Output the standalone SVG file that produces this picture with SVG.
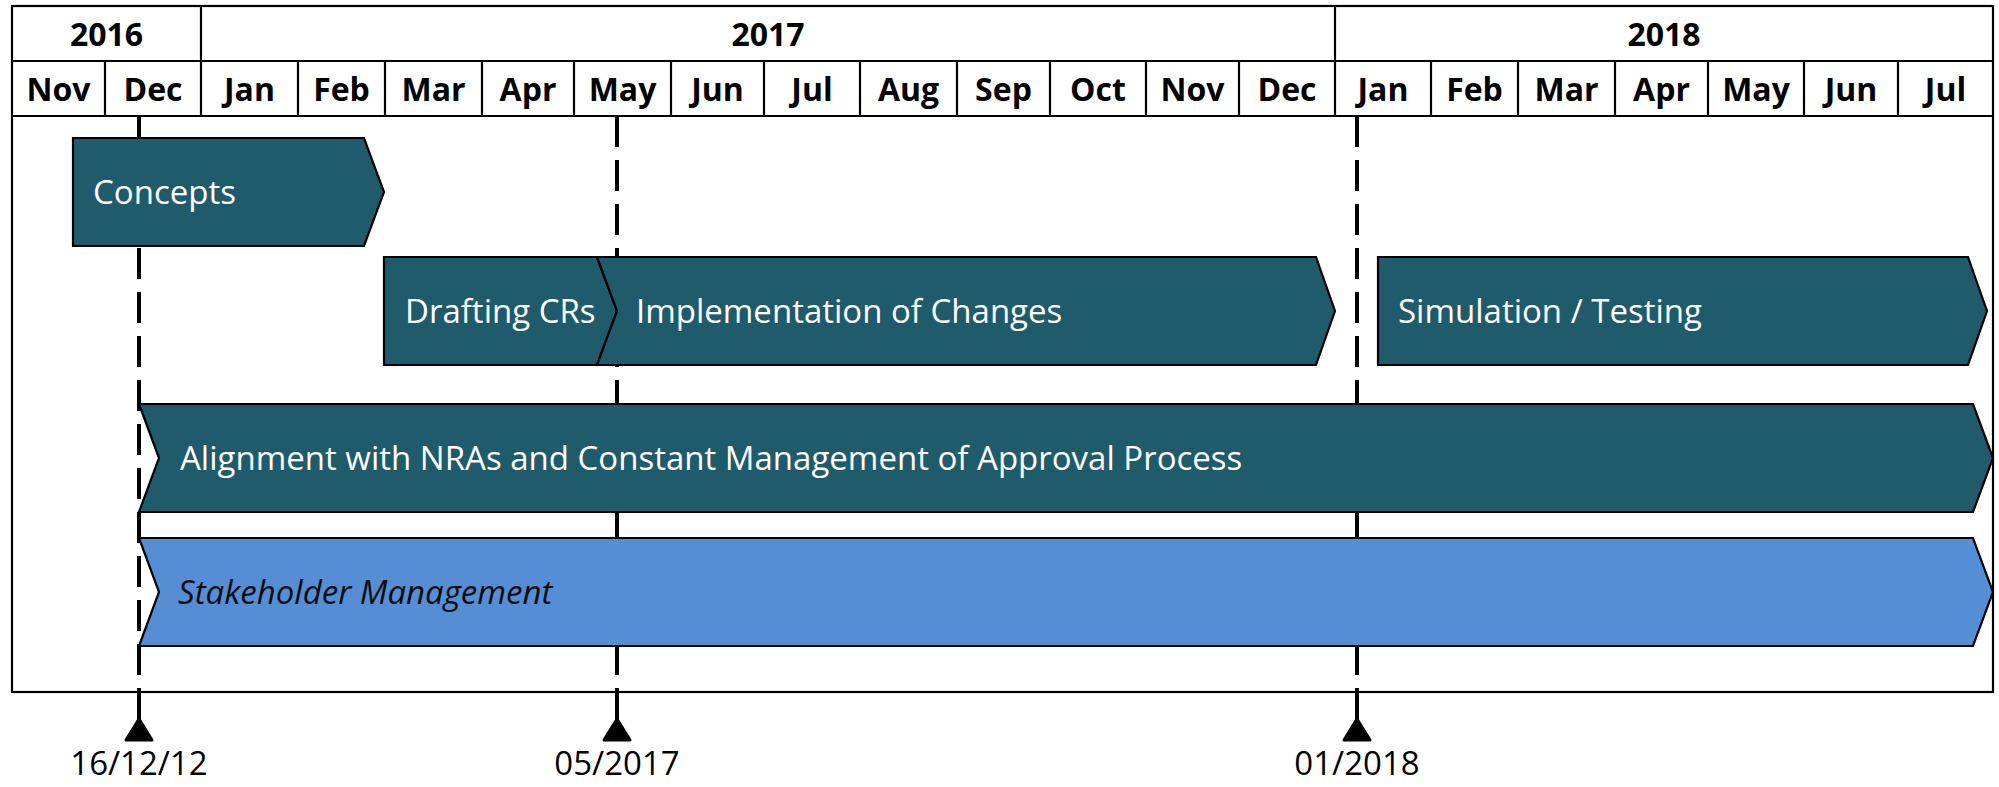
<svg xmlns="http://www.w3.org/2000/svg" width="1999" height="787" viewBox="0 0 1999 787">
<style>
.grid{fill:none;stroke:#000;stroke-width:2.2}
.hd{font-family:"Open Sans","Liberation Sans",sans-serif;font-weight:bold;font-size:32px;fill:#000;text-anchor:middle}
.bar{fill:#1F5B6B;stroke:#000;stroke-width:2.2;stroke-linejoin:miter}
.bar2{fill:#558ED5;stroke:#000;stroke-width:2.2}
.lbl{font-family:"Open Sans","Liberation Sans",sans-serif;font-size:33px;fill:#fff}
.lbl2{font-family:"Open Sans","Liberation Sans",sans-serif;font-size:33px;font-style:italic;fill:#0d0d0d}
.ms{stroke:#000;stroke-width:4;fill:none}
.dash{stroke-dasharray:31 13}
.tri{fill:#000;stroke:#000;stroke-width:3;stroke-linejoin:round}
.date{font-family:"Open Sans","Liberation Sans",sans-serif;font-size:33px;fill:#000;text-anchor:middle}
</style>
<rect width="1999" height="787" fill="#fff"/>
<g id="timescale">
<rect class="grid" x="12" y="6" width="1981" height="686"/>
<path class="grid" d="M12,61H1993M12,116H1993M201,6V116M1335,6V116M105,61V116M298,61V116M385,61V116M482,61V116M574,61V116M671,61V116M764,61V116M860,61V116M957,61V116M1050,61V116M1146,61V116M1239,61V116M1431,61V116M1518,61V116M1615,61V116M1708,61V116M1804,61V116M1898,61V116"/>
<text class="hd" x="106.5" y="46">2016</text>
<text class="hd" x="768" y="46">2017</text>
<text class="hd" x="1664" y="46">2018</text>
<text class="hd" x="58.5" y="101">Nov</text>
<text class="hd" x="153" y="101">Dec</text>
<text class="hd" x="249.5" y="101">Jan</text>
<text class="hd" x="341.5" y="101">Feb</text>
<text class="hd" x="433.5" y="101">Mar</text>
<text class="hd" x="528" y="101">Apr</text>
<text class="hd" x="622.5" y="101">May</text>
<text class="hd" x="717.5" y="101">Jun</text>
<text class="hd" x="812" y="101">Jul</text>
<text class="hd" x="908.5" y="101">Aug</text>
<text class="hd" x="1003.5" y="101">Sep</text>
<text class="hd" x="1098" y="101">Oct</text>
<text class="hd" x="1192.5" y="101">Nov</text>
<text class="hd" x="1287" y="101">Dec</text>
<text class="hd" x="1383" y="101">Jan</text>
<text class="hd" x="1474.5" y="101">Feb</text>
<text class="hd" x="1566.5" y="101">Mar</text>
<text class="hd" x="1661.5" y="101">Apr</text>
<text class="hd" x="1756" y="101">May</text>
<text class="hd" x="1851" y="101">Jun</text>
<text class="hd" x="1945.5" y="101">Jul</text>
</g>
<g id="connectors">
<path class="ms dash" d="M139,116V692M617,116V692M1357,116V692"/>
<path class="ms" d="M139,692V720M617,692V720M1357,692V720"/>
</g>
<g id="concepts">
<path class="bar" d="M73,138H364L384,192L364,246H73Z"/>
<text class="lbl" x="93" y="204">Concepts</text>
</g>
<g id="drafting">
<path class="bar" d="M384,257H597L617,311L597,365H384Z"/>
<text class="lbl" x="405" y="323">Drafting CRs</text>
</g>
<g id="implementation">
<path class="bar" d="M597,257H1316L1335,311L1316,365H597L617,311Z"/>
<text class="lbl" x="636" y="323">Implementation of Changes</text>
</g>
<g id="simulation">
<path class="bar" d="M1378,257H1968L1987,311L1968,365H1378Z"/>
<text class="lbl" x="1398" y="323">Simulation / Testing</text>
</g>
<g id="alignment">
<path class="bar" d="M139,404H1973L1993,458L1973,512H139L159,458Z"/>
<text class="lbl" x="180" y="470">Alignment with NRAs and Constant Management of Approval Process</text>
</g>
<g id="stakeholder">
<path class="bar2" d="M139,538H1973L1993,592L1973,646H139L159,592Z"/>
<text class="lbl2" x="178" y="604">Stakeholder Management</text>
</g>
<g id="milestone-161212">
<path class="tri" d="M139,719L152,740H126Z"/>
<text class="date" x="139" y="775">16/12/12</text>
</g>
<g id="milestone-052017">
<path class="tri" d="M617,719L630,740H604Z"/>
<text class="date" x="617" y="775">05/2017</text>
</g>
<g id="milestone-012018">
<path class="tri" d="M1357,719L1370,740H1344Z"/>
<text class="date" x="1357" y="775">01/2018</text>
</g>
</svg>
